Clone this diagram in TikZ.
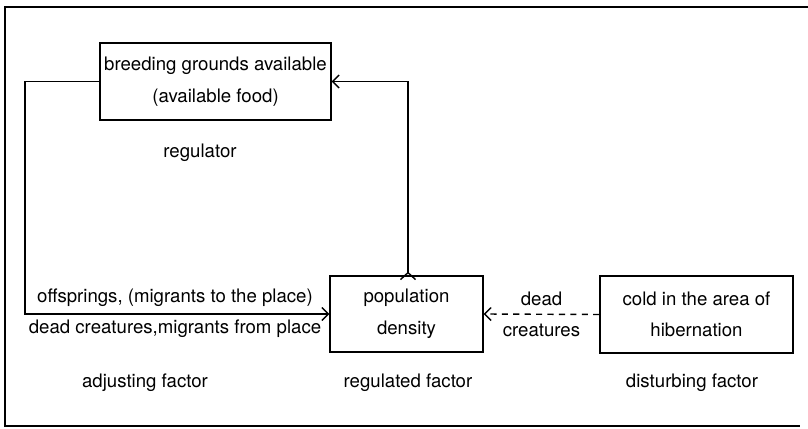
\documentclass[tikz,border=0pt]{standalone}
\usepackage{fontspec}
\setmainfont{TeX Gyre Heros}
\usepackage{tikz}
\usetikzlibrary{
    positioning,   % Relative positioning
    arrows.meta,   % Modern arrow tips
    calc           % Coordinate calculations
}
\tikzset{factorbox/.style={
    draw, line width=0.8pt, align=center, inner sep=2pt,
    font=\fontsize{10.6}{18}\selectfont
}}
\tikzset{caption/.style={
    font=\fontsize{10.6}{12}\selectfont, inner sep=0pt
}}
\tikzset{barb/.style={
    line width=0.8pt, -{Straight Barb[length=1.3mm, width=2.6mm]}
}}
\begin{document}
\begin{tikzpicture}[x=0.02cm, y=-0.02cm]
    \useasboundingbox (0,0) rectangle (808,429);
    % frame, open on the right
    \draw[line width=0.8pt] (808,7) -- (5,7) -- (5,426) -- (800,426);

    % the three factors
    \node[factorbox, minimum width=4.62cm, minimum height=1.54cm] (breeding) at (215.5,81.5)
        {breeding grounds available\\(available food)};
    \node[factorbox, minimum width=3.06cm, minimum height=1.52cm] (popdens) at (406.5,314)
        {population\\density};
    \node[factorbox, minimum width=3.86cm, minimum height=1.54cm] (cold) at (696.5,314.5)
        {cold in the area of\\hibernation};

    % connectors
    \coordinate (lcorner) at (25,314);
    \draw[barb] (breeding.west) -| (lcorner) -- (popdens.west);
    \draw[barb, {Straight Barb[reversed, length=1.4mm, width=3mm]}-{Straight Barb[length=1.3mm, width=2.6mm]}]
        ($(popdens.north)+(1.5,5)$) |- (breeding.east);
    \draw[barb, dash pattern=on 3.5pt off 3pt] (cold.west) -- (popdens.east)
        node[caption, midway, above=9pt, anchor=center] {dead}
        node[caption, midway, below=9pt, anchor=center] {creatures};

    % labels
    \node[caption] (offspr) at (175,298) {offsprings, (migrants to the place)};
    \node[caption] (deadmig) at (175,329) {dead creatures,migrants from place};
    \node[caption] (regl) at (200,153) {regulator};
    \node[caption] (adjf) at (145,383) {adjusting factor};
    \node[caption] (reglf) at (408,383) {regulated factor};
    \node[caption] (distf) at (692,383) {disturbing factor};
\end{tikzpicture}
\end{document}
